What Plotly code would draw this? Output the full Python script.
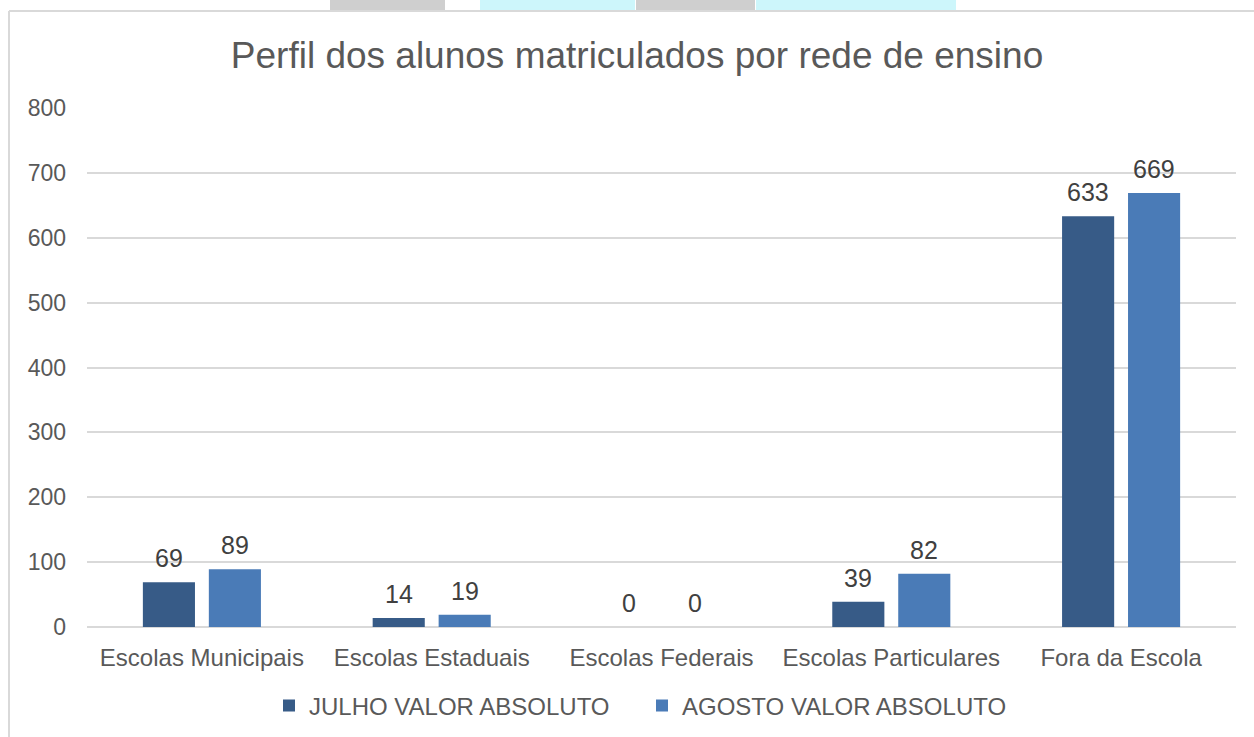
import plotly.graph_objects as go

categories = ["Escolas Municipais", "Escolas Estaduais", "Escolas Federais", "Escolas Particulares", "Fora da Escola"]
julho = [69, 14, 0, 39, 633]
agosto = [89, 19, 0, 82, 669]
series_names = ["JULHO VALOR ABSOLUTO", "AGOSTO VALOR ABSOLUTO"]
y_ticks = [0, 100, 200, 300, 400, 500, 600, 700, 800]

W, H = 1254, 737
L, R, T, B = 87, 18, 108, 110
PW, PH = W - L - R, H - T - B

def px(x):
    return (x - L) / PW

def py(y):
    return (H - B - y) / PH

colors = ["#375B87", "#4A7BB7"]

fig = go.Figure()
fig.add_trace(go.Bar(x=categories, y=julho, name=series_names[0],
                     marker=dict(color=colors[0], line=dict(width=0))))
fig.add_trace(go.Bar(x=categories, y=agosto, name=series_names[1],
                     marker=dict(color=colors[1], line=dict(width=0))))

annotations = []
for vals, xs in ((julho, -33), (agosto, 33)):
    for c, v in zip(categories, vals):
        annotations.append(dict(x=c, y=v, xref="x", yref="y", text=str(v), showarrow=False,
                                xshift=xs, yshift=24, yanchor="middle", xanchor="center",
                                font=dict(size=25, color="#404040")))

shapes = [
    dict(type="rect", xref="paper", yref="paper", x0=px(330), x1=px(445), y0=py(11), y1=py(0), fillcolor="#CFCFCF", line=dict(width=0), layer="below"),
    dict(type="rect", xref="paper", yref="paper", x0=px(480), x1=px(635), y0=py(11), y1=py(0), fillcolor="#CDF6FB", line=dict(width=0), layer="below"),
    dict(type="rect", xref="paper", yref="paper", x0=px(636), x1=px(755), y0=py(11), y1=py(0), fillcolor="#CFCFCF", line=dict(width=0), layer="below"),
    dict(type="rect", xref="paper", yref="paper", x0=px(756), x1=px(956), y0=py(11), y1=py(0), fillcolor="#CDF6FB", line=dict(width=0), layer="below"),
    dict(type="line", xref="paper", yref="paper", x0=px(9), x1=px(9), y0=py(11), y1=py(737), line=dict(color="#D9D9D9", width=2)),
    dict(type="line", xref="paper", yref="paper", x0=px(9), x1=px(1254), y0=py(11), y1=py(11), line=dict(color="#D9D9D9", width=2)),
]

fig.update_layout(
    width=W, height=H,
    margin=dict(l=L, r=R, t=T, b=B, autoexpand=False),
    paper_bgcolor="white", plot_bgcolor="white",
    font=dict(family="Liberation Sans, Arial, sans-serif", color="#595959"),
    title=dict(text="Perfil dos alunos matriculados por rede de ensino",
               x=0.508, xanchor="center", y=1 - 55 / H, yanchor="middle",
               font=dict(size=37, color="#595959")),
    barmode="group", bargap=0.426, bargroupgap=0.21,
    showlegend=True,
    legend=dict(orientation="h", x=px(269), xanchor="left", y=py(706), yanchor="middle",
                font=dict(size=24, color="#595959"), itemwidth=30, traceorder="normal",
                entrywidth=328, entrywidthmode="pixels"),
    shapes=shapes,
    annotations=annotations,
)
fig.update_xaxes(showline=False, ticks="", tickfont=dict(size=24, color="#595959"), showgrid=False,
                 ticklabelstandoff=14)
fig.update_yaxes(range=[0, 800], tickvals=y_ticks, showline=False, ticks="",
                 gridcolor="#D9D9D9", gridwidth=2, zeroline=True, zerolinecolor="#D9D9D9", zerolinewidth=2,
                 tickfont=dict(size=23, color="#595959"), ticklabelstandoff=20)

fig.write_html("out.html", config={"displayModeBar": False},
               post_script="document.body.style.margin='0';")
